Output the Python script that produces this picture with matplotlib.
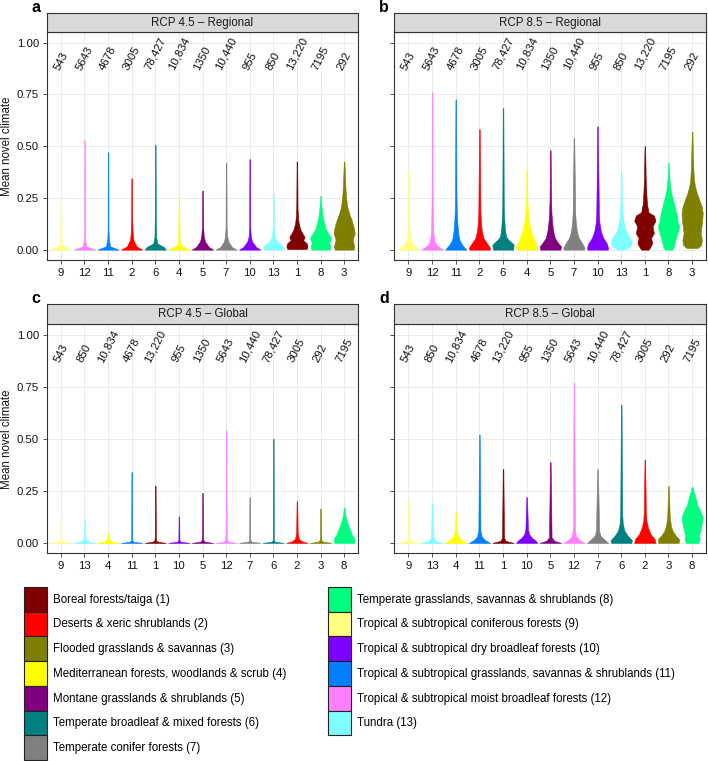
import matplotlib
matplotlib.use("Agg")
import matplotlib.pyplot as plt
import numpy as np
from matplotlib.patches import Patch

plt.rcParams['font.family'] = ['Liberation Sans', 'DejaVu Sans']

# biomes 1..13
biome_names = [
    "Boreal forests/taiga (1)",
    "Deserts & xeric shrublands (2)",
    "Flooded grasslands & savannas (3)",
    "Mediterranean forests, woodlands & scrub (4)",
    "Montane grasslands & shrublands (5)",
    "Temperate broadleaf & mixed forests (6)",
    "Temperate conifer forests (7)",
    "Temperate grasslands, savannas & shrublands (8)",
    "Tropical & subtropical coniferous forests (9)",
    "Tropical & subtropical dry broadleaf forests (10)",
    "Tropical & subtropical grasslands, savannas & shrublands (11)",
    "Tropical & subtropical moist broadleaf forests (12)",
    "Tundra (13)",
]
biome_colors = ["#800000", "#FF0000", "#808000", "#FFFF00", "#800080", "#008080", "#808080",
                "#00FF80", "#FFFF80", "#8000FF", "#0080FF", "#FF80FF", "#80FFFF"]
biome_counts = [13220, 3005, 292, 10834, 1350, 78427, 10440, 7195, 543, 955, 4678, 5643, 850]

order_regional = [9, 12, 11, 2, 6, 4, 5, 7, 10, 13, 1, 8, 3]
order_global = [9, 13, 4, 11, 1, 10, 5, 12, 7, 6, 2, 3, 8]

# violin outlines: biome -> (mean novel climate levels, relative width)
shapes_45_regional = {
    9: ([0, 0.016, 0.024, 0.05, 0.244], [1, 0.3, 0.12, 0.06, 0.03]),
    12: ([0, 0.016, 0.05, 0.1, 0.53], [1, 0.15, 0.06, 0.04, 0.03]),
    11: ([0, 0.016, 0.05, 0.1, 0.47], [1, 0.2, 0.07, 0.04, 0.03]),
    2: ([0, 0.016, 0.048, 0.08, 0.15, 0.345], [1, 0.45, 0.15, 0.09, 0.05, 0.03]),
    6: ([0, 0.013, 0.03, 0.06, 0.15, 0.506], [1, 0.8, 0.2, 0.08, 0.05, 0.03]),
    4: ([0, 0.016, 0.024, 0.05, 0.253], [1, 0.35, 0.12, 0.06, 0.03]),
    5: ([0, 0.013, 0.04, 0.064, 0.11, 0.285], [1, 0.6, 0.23, 0.12, 0.06, 0.03]),
    7: ([0, 0.013, 0.04, 0.064, 0.11, 0.42], [1, 0.55, 0.2, 0.1, 0.05, 0.03]),
    10: ([0, 0.013, 0.04, 0.064, 0.11, 0.437], [1, 0.6, 0.22, 0.1, 0.05, 0.03]),
    13: ([0, 0.008, 0.024, 0.04, 0.06, 0.1, 0.272], [0.85, 1, 0.75, 0.35, 0.15, 0.07, 0.03]),
    1: ([0.003, 0.016, 0.032, 0.045, 0.062, 0.08, 0.1, 0.13, 0.16, 0.2, 0.426],
        [0.9, 1, 0.9, 0.6, 0.72, 0.5, 0.3, 0.16, 0.1, 0.06, 0.03]),
    8: ([0, 0.016, 0.032, 0.056, 0.08, 0.104, 0.144, 0.176, 0.208, 0.26],
        [0.85, 0.95, 0.8, 1, 0.7, 0.45, 0.27, 0.15, 0.09, 0.03]),
    3: ([0, 0.016, 0.048, 0.08, 0.112, 0.144, 0.168, 0.192, 0.216, 0.256, 0.304, 0.368, 0.425],
        [0.88, 0.96, 0.8, 1, 0.88, 0.7, 0.52, 0.37, 0.27, 0.18, 0.12, 0.07, 0.03]),
}
shapes_85_regional = {
    9: ([0, 0.024, 0.048, 0.096, 0.176, 0.385], [1, 0.45, 0.18, 0.09, 0.06, 0.03]),
    12: ([0, 0.021, 0.04, 0.08, 0.144, 0.256, 0.76], [1, 0.45, 0.22, 0.12, 0.08, 0.05, 0.03]),
    11: ([0, 0.024, 0.048, 0.08, 0.128, 0.176, 0.256, 0.726], [1, 0.6, 0.34, 0.23, 0.15, 0.1, 0.07, 0.03]),
    2: ([0, 0.008, 0.032, 0.056, 0.088, 0.128, 0.176, 0.582], [0.95, 1, 0.7, 0.38, 0.23, 0.15, 0.1, 0.03]),
    6: ([0, 0.024, 0.032, 0.048, 0.064, 0.096, 0.144, 0.208, 0.684],
        [0.95, 1, 0.85, 0.5, 0.28, 0.18, 0.12, 0.07, 0.03]),
    4: ([0, 0.016, 0.04, 0.064, 0.096, 0.128, 0.16, 0.208, 0.272, 0.385],
        [0.95, 1, 0.77, 0.58, 0.38, 0.23, 0.15, 0.09, 0.05, 0.03]),
    5: ([0, 0.016, 0.032, 0.056, 0.088, 0.128, 0.176, 0.24, 0.48], [0.95, 1, 0.74, 0.43, 0.28, 0.18, 0.11, 0.07, 0.03]),
    7: ([0, 0.008, 0.032, 0.056, 0.088, 0.128, 0.176, 0.54], [0.95, 1, 0.77, 0.46, 0.28, 0.18, 0.12, 0.03]),
    10: ([0, 0.008, 0.032, 0.056, 0.088, 0.128, 0.176, 0.596], [0.95, 1, 0.85, 0.54, 0.31, 0.18, 0.12, 0.03]),
    13: ([0, 0.008, 0.016, 0.04, 0.064, 0.088, 0.112, 0.144, 0.176, 0.24, 0.377],
         [0.3, 0.6, 0.85, 1, 0.77, 0.46, 0.31, 0.18, 0.12, 0.07, 0.03]),
    1: ([0, 0.016, 0.032, 0.056, 0.08, 0.112, 0.14, 0.165, 0.18, 0.22, 0.27, 0.34, 0.5],
        [0.35, 0.55, 0.7, 0.58, 0.85, 0.72, 1, 0.85, 0.35, 0.2, 0.14, 0.08, 0.03]),
    8: ([0, 0.016, 0.048, 0.08, 0.112, 0.136, 0.16, 0.192, 0.224, 0.256, 0.288, 0.32, 0.353, 0.42],
        [0.35, 0.5, 0.65, 0.85, 1, 0.85, 0.8, 0.65, 0.5, 0.33, 0.2, 0.13, 0.08, 0.03]),
    3: ([0.008, 0.024, 0.048, 0.08, 0.128, 0.176, 0.208, 0.24, 0.272, 0.304, 0.337, 0.385, 0.449, 0.513, 0.57],
        [0.55, 0.85, 0.92, 0.8, 0.92, 1, 0.9, 0.68, 0.45, 0.28, 0.18, 0.12, 0.08, 0.05, 0.03]),
}
shapes_45_global = {
    9: ([0, 0.006, 0.012, 0.12], [1, 0.2, 0.05, 0.03]),
    13: ([0, 0.006, 0.013, 0.026, 0.11], [1, 0.4, 0.15, 0.07, 0.03]),
    4: ([0, 0.006, 0.016, 0.026, 0.05], [1, 0.4, 0.15, 0.08, 0.03]),
    11: ([0, 0.006, 0.015, 0.34], [1, 0.15, 0.05, 0.03]),
    1: ([0, 0.006, 0.01, 0.025, 0.275], [1, 0.25, 0.1, 0.05, 0.03]),
    10: ([0, 0.006, 0.015, 0.127], [1, 0.15, 0.05, 0.03]),
    5: ([0, 0.006, 0.015, 0.24], [1, 0.2, 0.06, 0.03]),
    12: ([0, 0.006, 0.016, 0.05, 0.54], [1, 0.2, 0.07, 0.05, 0.03]),
    7: ([0, 0.006, 0.015, 0.22], [1, 0.15, 0.05, 0.03]),
    6: ([0, 0.006, 0.015, 0.5], [1, 0.15, 0.05, 0.03]),
    2: ([0, 0.006, 0.016, 0.031, 0.052, 0.2], [1, 0.55, 0.23, 0.12, 0.07, 0.03]),
    3: ([0, 0.006, 0.015, 0.165], [1, 0.23, 0.06, 0.03]),
    8: ([0, 0.01, 0.026, 0.042, 0.059, 0.075, 0.1, 0.124, 0.149, 0.17],
        [0.92, 1, 0.92, 0.7, 0.6, 0.45, 0.28, 0.15, 0.08, 0.03]),
}
shapes_85_global = {
    9: ([0, 0.01, 0.026, 0.196], [1, 0.15, 0.06, 0.03]),
    13: ([0, 0.01, 0.026, 0.188], [1, 0.3, 0.12, 0.03]),
    4: ([0, 0.013, 0.029, 0.05, 0.075, 0.148], [1, 0.6, 0.28, 0.12, 0.07, 0.03]),
    11: ([0, 0.013, 0.029, 0.058, 0.52], [1, 0.55, 0.23, 0.1, 0.03]),
    1: ([0, 0.01, 0.026, 0.355], [1, 0.23, 0.09, 0.03]),
    10: ([0, 0.01, 0.026, 0.042, 0.066, 0.22], [1, 0.85, 0.46, 0.23, 0.12, 0.03]),
    5: ([0, 0.01, 0.026, 0.388], [1, 0.38, 0.12, 0.03]),
    12: ([0, 0.013, 0.034, 0.075, 0.77], [1, 0.54, 0.18, 0.09, 0.03]),
    7: ([0, 0.013, 0.034, 0.058, 0.354], [1, 0.7, 0.28, 0.15, 0.03]),
    6: ([0, 0.013, 0.034, 0.058, 0.091, 0.14, 0.664], [0.95, 1, 0.62, 0.31, 0.15, 0.09, 0.03]),
    2: ([0, 0.018, 0.042, 0.075, 0.107, 0.156, 0.4], [1, 0.92, 0.54, 0.28, 0.15, 0.09, 0.03]),
    3: ([0, 0.018, 0.034, 0.058, 0.083, 0.123, 0.188, 0.273], [0.95, 1, 0.7, 0.38, 0.23, 0.12, 0.08, 0.03]),
    8: ([0, 0.018, 0.034, 0.075, 0.123, 0.156, 0.18, 0.205, 0.229, 0.245, 0.261, 0.27],
        [0.6, 0.72, 0.65, 0.85, 1, 0.75, 0.5, 0.38, 0.25, 0.15, 0.08, 0.03]),
}

W, H = 708, 761
fig = plt.figure(figsize=(W / 100, H / 100), dpi=100)


def fmt_count(n):
    return f"{n:,}" if n >= 10000 else str(n)


def draw_panel(rect, strip_h, title, letter, order, shapes, show_ylab):
    left, top, right, bottom = rect  # pixels
    ax = fig.add_axes([left / W, 1 - bottom / H, (right - left) / W, (bottom - top) / H])
    stats = []
    for b in order:
        ys, ws = shapes[b]
        stats.append(dict(coords=np.array(ys), vals=np.array(ws), mean=0, median=0,
                          min=ys[0], max=ys[-1]))
    pos = np.arange(1, len(order) + 1)
    parts = ax.violin(stats, positions=pos, widths=0.9, showmeans=False, showextrema=False)
    for body, b in zip(parts['bodies'], order):
        body.set_facecolor(biome_colors[b - 1])
        body.set_edgecolor(biome_colors[b - 1])
        body.set_linewidth(0.4)
        body.set_alpha(1)
    for x, b in zip(pos, order):
        ax.text(x, 0.86, fmt_count(biome_counts[b - 1]), rotation=63, ha='center', va='bottom',
                fontsize=8.2, color='#111111')
    ax.set_xlim(0.4, len(order) + 0.6)
    ax.set_ylim(-0.05, 1.05)
    ax.set_xticks(pos)
    ax.set_xticklabels([str(b) for b in order])
    ax.set_yticks([0, 0.25, 0.5, 0.75, 1.0])
    ax.set_yticklabels(["0.00", "0.25", "0.50", "0.75", "1.00"])
    ax.tick_params(labelsize=8.2, colors='#333333', labelcolor='#111111', length=3, width=0.6, pad=2.5)
    ax.grid(True, color='#EBEBEB', linewidth=0.7)
    ax.set_axisbelow(True)
    for s in ax.spines.values():
        s.set_color('#333333')
        s.set_linewidth(0.8)
    if show_ylab:
        ax.set_ylabel("Mean novel climate", fontsize=8.3, color='#111111')
        ax.yaxis.set_label_coords(-(left - 13) / (right - left), 0.5)
    else:
        ax.tick_params(labelleft=False)

    sx = fig.add_axes([left / W, 1 - top / H, (right - left) / W, strip_h / H])
    sx.set_facecolor('#D9D9D9')
    sx.set_xticks([])
    sx.set_yticks([])
    for s in sx.spines.values():
        s.set_color('#333333')
        s.set_linewidth(0.8)
    sx.text(0.5, 0.5, title, ha='center', va='center', fontsize=8.3, color='#1A1A1A',
            transform=sx.transAxes)
    fig.text((left - 15) / W, 1 - (top - strip_h - 1) / H, letter, fontsize=11.5, fontweight='bold',
             ha='left', va='baseline')
    return ax


draw_panel((46.7, 32.3, 358.3, 260), 19, "RCP 4.5 \u2013 Regional", "a", order_regional, shapes_45_regional, True)
draw_panel((394.3, 32.3, 706.3, 260), 19, "RCP 8.5 \u2013 Regional", "b", order_regional, shapes_85_regional, False)
draw_panel((46.7, 324.3, 358.3, 553.3), 20, "RCP 4.5 \u2013 Global", "c", order_global, shapes_45_global, True)
draw_panel((394.3, 324.3, 706.3, 553.3), 20, "RCP 8.5 \u2013 Global", "d", order_global, shapes_85_global, False)

handles = [Patch(facecolor=c, edgecolor='#222222', linewidth=0.8, label=n)
           for n, c in zip(biome_names, biome_colors)]
fig.legend(handles=handles, loc='upper left', bbox_to_anchor=(24 / W, 1 - 587 / H), ncol=2,
           frameon=False, fontsize=8.3, handlelength=2.0, handleheight=2.92, handletextpad=0.52,
           labelspacing=0, columnspacing=3.6, borderpad=0, borderaxespad=0)

fig.savefig("out.png", dpi=100)
